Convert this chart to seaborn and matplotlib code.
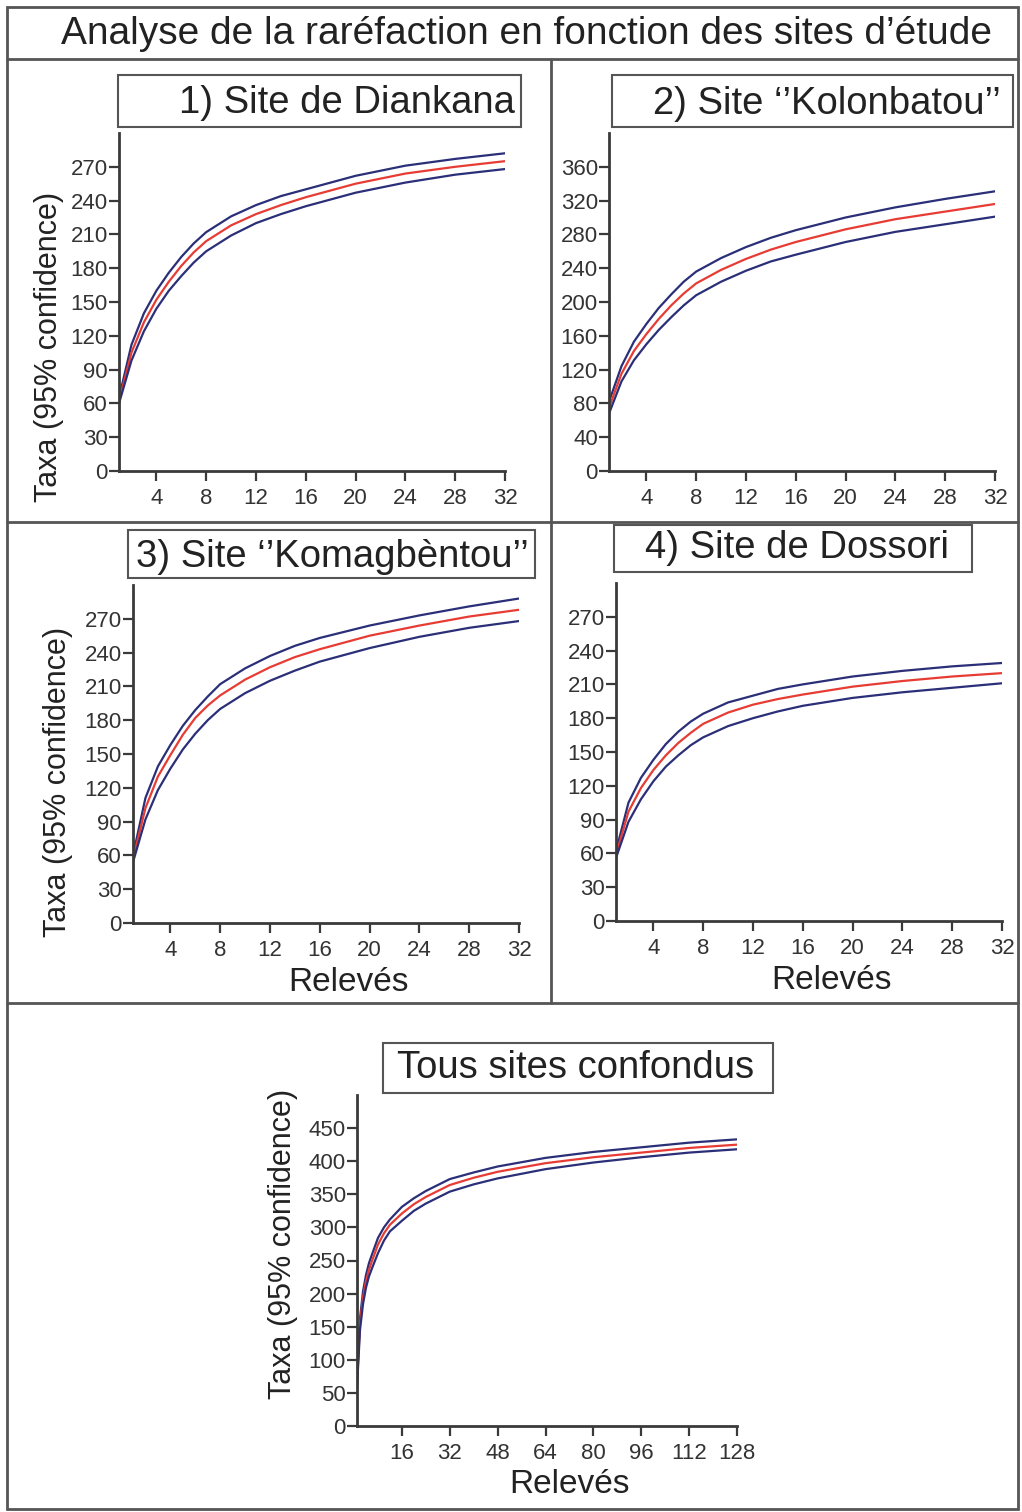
import numpy as np
import pandas as pd
import matplotlib
matplotlib.use("Agg")
import matplotlib.pyplot as plt
import seaborn as sns
from matplotlib.patches import Rectangle
from matplotlib.lines import Line2D

# ---------------- data ----------------
releves_site = [1, 2, 3, 4, 5, 6, 7, 8, 10, 12, 14, 16, 20, 24, 28, 32]

diankana_mean = [62, 105, 132, 152, 168, 182, 194, 204, 218, 228, 236, 243, 255, 264, 270, 275]
diankana_high = [65, 112, 140, 160, 176, 190, 202, 212, 226, 236, 244, 250, 262, 271, 277, 282]
diankana_low = [60, 98, 124, 144, 160, 173, 185, 195, 209, 220, 228, 235, 247, 256, 263, 268]

kolonbatou_mean = [75, 115, 142, 162, 180, 196, 210, 222, 238, 251, 262, 271, 286, 298, 307, 316]
kolonbatou_high = [82, 124, 153, 174, 193, 209, 224, 236, 252, 265, 276, 285, 300, 312, 322, 331]
kolonbatou_low = [68, 106, 131, 150, 167, 182, 196, 208, 224, 237, 248, 256, 271, 283, 292, 301]

komagbentou_mean = [57, 102, 130, 149, 167, 182, 193, 202, 216, 227, 236, 243, 255, 264, 272, 278]
komagbentou_high = [60, 111, 139, 158, 175, 189, 201, 212, 226, 237, 246, 253, 264, 273, 281, 288]
komagbentou_low = [54, 92, 118, 137, 154, 168, 180, 190, 204, 215, 224, 232, 244, 254, 262, 268]

dossori_mean = [59, 97, 118, 134, 147, 158, 167, 175, 185, 192, 197, 201, 208, 213, 217, 220]
dossori_high = [62, 105, 127, 143, 157, 168, 177, 184, 194, 200, 206, 210, 217, 222, 226, 229]
dossori_low = [56, 88, 108, 124, 137, 147, 156, 163, 173, 180, 186, 191, 198, 203, 207, 211]

releves_tous = [1, 2, 3, 4, 5, 6, 8, 10, 12, 16, 20, 24, 32, 40, 48, 64, 80, 96, 112, 128]
tous_mean = [65, 154, 194, 219, 236, 249, 274, 291, 304, 321, 335, 346, 364, 375, 384, 397, 406, 413, 420, 425]
tous_high = [70, 162, 203, 228, 246, 259, 284, 300, 312, 331, 344, 355, 373, 383, 392, 405, 414, 421, 428, 433]
tous_low = [58, 145, 184, 209, 226, 238, 261, 280, 294, 310, 325, 336, 354, 365, 374, 388, 398, 406, 413, 418]

titre = "Analyse de la raréfaction en fonction des sites d\u2019étude"
titres_panneaux = ["1) Site de Diankana", "2) Site \u2018\u2019Kolonbatou\u2019\u2019",
                   "3) Site \u2018\u2019Komagbèntou\u2019\u2019", "4) Site de Dossori",
                   "Tous sites confondus"]
ticks_x_site = [4, 8, 12, 16, 20, 24, 28, 32]
ticks_x_tous = [16, 32, 48, 64, 80, 96, 112, 128]
ticks_y_30 = [0, 30, 60, 90, 120, 150, 180, 210, 240, 270]
ticks_y_40 = [0, 40, 80, 120, 160, 200, 240, 280, 320, 360]
ticks_y_50 = [0, 50, 100, 150, 200, 250, 300, 350, 400, 450]
label_y = "Taxa (95% confidence)"
label_x = "Relevés"

# ---------------- style ----------------
sns.set_theme(style="ticks")
plt.rcParams['font.family'] = ['Liberation Sans', 'DejaVu Sans']

W, H = 1022, 1512
fig = plt.figure(figsize=(W / 100, H / 100), dpi=100)
fig.patch.set_facecolor("white")


def fx(px):
    return px / W


def fy(py):
    return 1 - py / H


DARK = "#3a3a3a"
BLUE = "#2a2f78"
RED = "#e63c34"

# frame lines
fig.add_artist(Rectangle((fx(7), fy(1509)), fx(1018) - fx(7), fy(7) - fy(1509),
                         transform=fig.transFigure, fill=False, lw=2, ec="#555555"))
for (x0, y0, x1, y1) in [(7, 59, 1018, 59), (7, 522, 1018, 522), (7, 1003, 1018, 1003),
                         (551, 59, 551, 1003)]:
    fig.add_artist(Line2D([fx(x0), fx(x1)], [fy(y0), fy(y1)], transform=fig.transFigure,
                          lw=2, color="#555555"))

fig.text(fx(526), fy(34), titre, ha="center", va="center", fontsize=28, color="#222222")

# panels: (x, mean, high, low, axes px box (left, top, right, bottom), xlim, ylim, xticks, yticks,
#          title box, title center, y-label centre px (or None), show xlabel)
panels = [
    (releves_site, diankana_mean, diankana_high, diankana_low, (119, 133, 505, 471), (1, 32), (0, 300),
     ticks_x_site, ticks_y_30, (118, 75, 521, 127), (347, 103), (49, 347), False),
    (releves_site, kolonbatou_mean, kolonbatou_high, kolonbatou_low, (609, 133, 995, 471), (1, 32), (0, 400),
     ticks_x_site, ticks_y_40, (612, 75, 1013, 127), (827, 104), None, False),
    (releves_site, komagbentou_mean, komagbentou_high, komagbentou_low, (133, 585, 519, 923), (1, 32), (0, 300),
     ticks_x_site, ticks_y_30, (128, 530, 535, 578), (332, 557), (58, 782), True),
    (releves_site, dossori_mean, dossori_high, dossori_low, (616, 583, 1002, 921), (1, 32), (0, 300),
     ticks_x_site, ticks_y_30, (614, 525, 972, 572), (797, 548), None, True),
    (releves_tous, tous_mean, tous_high, tous_low, (357, 1095, 737, 1426), (1, 128), (0, 500),
     ticks_x_tous, ticks_y_50, (383, 1043, 773, 1093), (576, 1068), (283, 1244), True),
]

for i, (xs, m, hi, lo, box, xlim, ylim, xt, yt, tbox, tc, ylab_c, show_xl) in enumerate(panels):
    l, t, r, b = box
    ax = fig.add_axes([fx(l), fy(b), fx(r) - fx(l), fy(t) - fy(b)])
    df = pd.DataFrame({
        "Relevés": list(xs) * 3,
        "Taxa": list(hi) + list(m) + list(lo),
        "serie": ["haut"] * len(xs) + ["moyenne"] * len(xs) + ["bas"] * len(xs),
    })
    sns.lineplot(data=df, x="Relevés", y="Taxa", hue="serie",
                 palette={"haut": BLUE, "moyenne": RED, "bas": BLUE},
                 estimator=None, legend=False, ax=ax, linewidth=1.6)
    ax.set_xlim(*xlim)
    ax.set_ylim(*ylim)
    ax.set_xticks(xt)
    ax.set_yticks(yt)
    sns.despine(ax=ax)
    for s in ["left", "bottom"]:
        ax.spines[s].set_linewidth(2)
        ax.spines[s].set_color(DARK)
    ax.tick_params(axis="both", direction="out", length=7, width=1.6, color=DARK,
                   labelsize=16, labelcolor="#333333")
    ax.tick_params(axis="x", pad=5)
    ax.tick_params(axis="y", pad=1)
    ax.set_facecolor("white")
    if ylab_c is not None:
        ax.set_ylabel(label_y, fontsize=22, color="#222222")
        ax.yaxis.label.set_verticalalignment("center")
        ax.yaxis.set_label_coords((ylab_c[0] - l) / (r - l), (b - ylab_c[1]) / (b - t))
    else:
        ax.set_ylabel("")
    if show_xl:
        ax.set_xlabel(label_x, fontsize=24, color="#222222")
        ax.xaxis.set_label_coords(0.5 + 22 / (r - l), -0.13)
    else:
        ax.set_xlabel("")
    # boxed panel title
    bl, bt, br, bb = tbox
    fig.add_artist(Rectangle((fx(bl), fy(bb)), fx(br) - fx(bl), fy(bt) - fy(bb),
                             transform=fig.transFigure, fill=True, fc="white", lw=1.5, ec="#555555"))
    fig.text(fx(tc[0]), fy(tc[1]), titres_panneaux[i], ha="center", va="center",
             fontsize=27.5, color="#222222")

fig.savefig("out.png", dpi=100, facecolor="white")
